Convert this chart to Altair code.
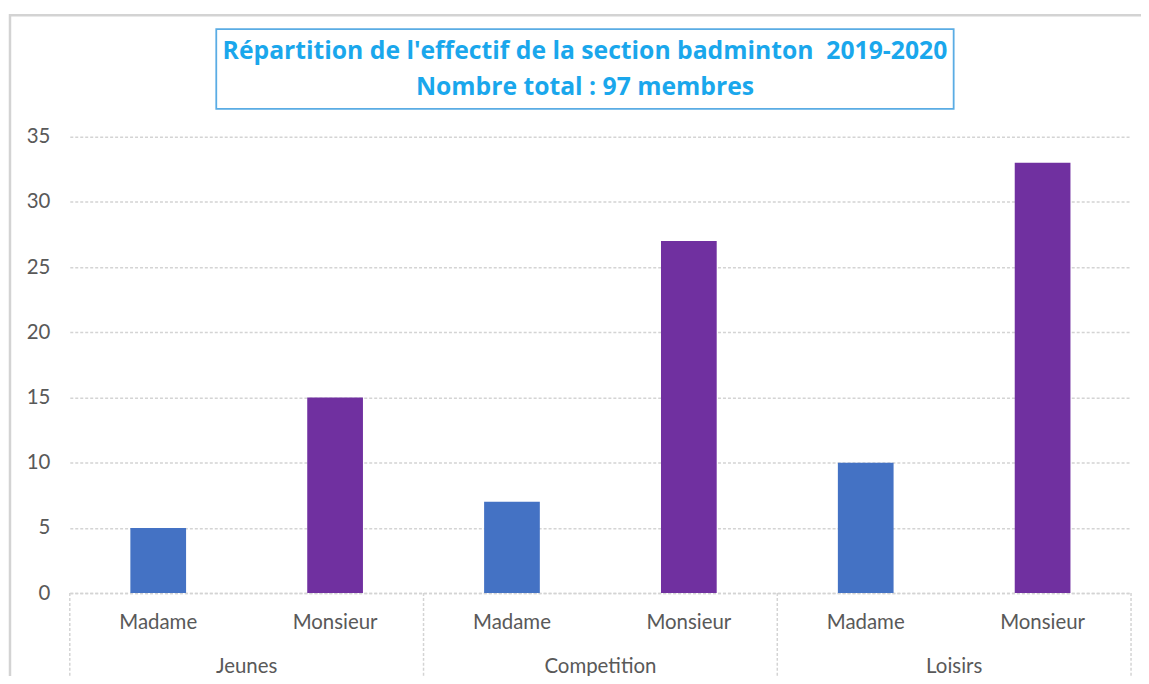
import altair as alt
import pandas as pd

# ---- data ----
groups = ["Jeunes", "Jeunes", "Competition", "Competition", "Loisirs", "Loisirs"]
genders = ["Madame", "Monsieur", "Madame", "Monsieur", "Madame", "Monsieur"]
values = [5, 15, 7, 27, 10, 33]
title_lines = [
    "Répartition de l'effectif de la section badminton\u00a0 2019-2020",
    "Nombre total : 97 membres",
]
y_ticks = [0, 5, 10, 15, 20, 25, 30, 35]
gender_domain = ["Madame", "Monsieur"]
gender_colors = ["#4472C4", "#7030A0"]

df = pd.DataFrame({"group": groups, "genre": genders, "effectif": values})
df["key"] = df["group"] + "|" + df["genre"]
order = list(df["key"])

W, H = 1065, 458
FONT = "Lato"
TFONT = "Open Sans"
GRID = "#d4d4d4"
LABEL = "#595959"
FS = 20.5


def xenc(band_pos=None):
    kw = dict(
        sort=order,
        scale=alt.Scale(paddingInner=0, paddingOuter=0),
        axis=alt.Axis(
            title=None,
            labelExpr="split(datum.label, '|')[1]",
            labelAngle=0,
            ticks=False,
            domain=True,
            domainColor=GRID,
            domainDash=[3, 2],
            domainWidth=1.5,
            grid=False,
            labelPadding=20,
            labelFontSize=FS,
            labelColor=LABEL,
            labelFont=FONT,
        ),
    )
    if band_pos is not None:
        kw["bandPosition"] = band_pos
    return alt.X("key:N", **kw)


bars = alt.Chart(df).mark_bar(width=alt.RelativeBandSize(0.315)).encode(
    x=xenc(),
    y=alt.Y(
        "effectif:Q",
        scale=alt.Scale(domain=[0, 35]),
        axis=alt.Axis(
            values=y_ticks,
            title=None,
            domain=False,
            ticks=False,
            grid=True,
            gridColor=GRID,
            gridDash=[3, 2],
            gridWidth=1.5,
            labelPadding=20,
            labelFontSize=FS,
            labelColor=LABEL,
            labelFont=FONT,
        ),
    ),
    color=alt.Color(
        "genre:N",
        scale=alt.Scale(domain=gender_domain, range=gender_colors),
        legend=None,
    ),
)

left_seps = alt.Chart(df[df["genre"] == "Madame"]).mark_rule(
    color=GRID, strokeDash=[3, 2], strokeWidth=1.5
).encode(x=xenc(0), y=alt.value(H), y2=alt.value(H + 95))

right_sep = alt.Chart(df.tail(1)).mark_rule(
    color=GRID, strokeDash=[3, 2], strokeWidth=1.5
).encode(x=xenc(1), y=alt.value(H), y2=alt.value(H + 95))

group_labels = alt.Chart(df[df["genre"] == "Monsieur"]).mark_text(
    font=FONT, fontSize=FS, color=LABEL, baseline="middle", align="center"
).encode(x=xenc(0), y=alt.value(H + 74), text="group:N")

frame = alt.Chart(pd.DataFrame({"f": [0]})).mark_rect(
    fill="white", fillOpacity=0, stroke="#d3d3d3", strokeWidth=2.5
).encode(
    x=alt.value(-60), x2=alt.value(W + 300), y=alt.value(-122), y2=alt.value(H + 300)
)

title_box = alt.Chart(pd.DataFrame({"f": [0]})).mark_rect(
    fill="white", stroke="#5AACE4", strokeWidth=1.8
).encode(x=alt.value(147), x2=alt.value(887), y=alt.value(-108), y2=alt.value(-28))

t1 = alt.Chart(pd.DataFrame({"t": [title_lines[0]]})).mark_text(
    font=TFONT, fontSize=24.8, fontWeight="bold", color="#1AA7EC",
    align="center", baseline="middle"
).encode(x=alt.value(517), y=alt.value(-85), text="t:N")

t2 = alt.Chart(pd.DataFrame({"t": [title_lines[1]]})).mark_text(
    font=TFONT, fontSize=24.8, fontWeight="bold", color="#1AA7EC",
    align="center", baseline="middle"
).encode(x=alt.value(517), y=alt.value(-49), text="t:N")

chart = alt.layer(
    frame, title_box, t1, t2, bars, left_seps, right_sep, group_labels
).properties(
    width=W,
    height=H,
    autosize=alt.AutoSizeParams(type="none"),
    padding={"left": 62, "top": 128, "right": 10, "bottom": 82},
).configure_view(stroke=None)

chart.save("out.html", embed_options={"renderer": "svg", "actions": False})
